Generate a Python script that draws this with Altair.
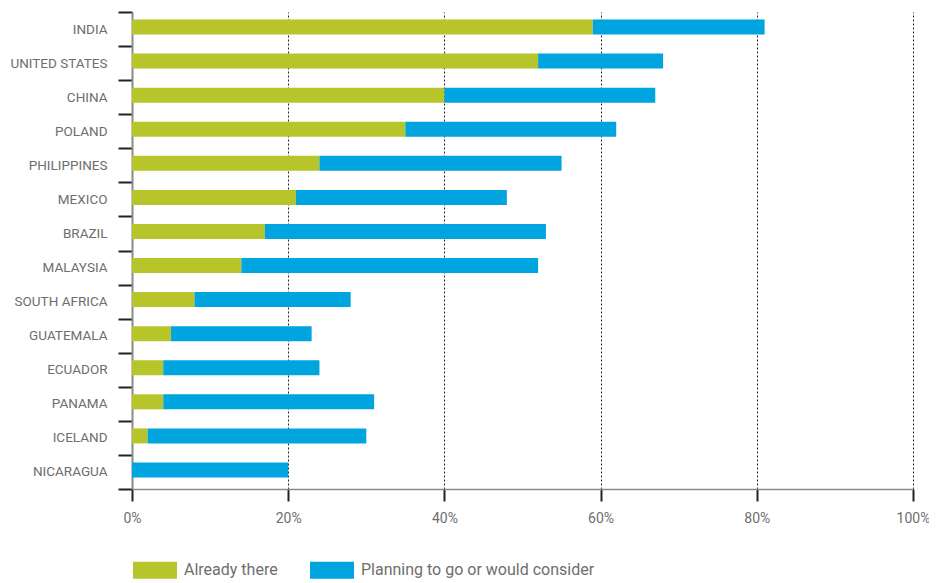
import altair as alt
import pandas as pd

countries = ["INDIA", "UNITED STATES", "CHINA", "POLAND", "PHILIPPINES", "MEXICO",
             "BRAZIL", "MALAYSIA", "SOUTH AFRICA", "GUATEMALA", "ECUADOR", "PANAMA",
             "ICELAND", "NICARAGUA"]
already = [59, 52, 40, 35, 24, 21, 17, 14, 8, 5, 4, 4, 2, 0]
total = [81, 68, 67, 62, 55, 48, 53, 52, 28, 23, 24, 31, 30, 20]
series = ["Already there", "Planning to go or would consider"]
colors = ["#b7c42a", "#00a5df"]
x_ticks = [0, 20, 40, 60, 80, 100]

rows = []
for c, a, t in zip(countries, already, total):
    rows.append({"country": c, "series": series[0], "value": a, "order": 0})
    rows.append({"country": c, "series": series[1], "value": t - a, "order": 1})
df = pd.DataFrame(rows)

FONT = "Roboto"
LABEL = "#6e6e6e"

chart = alt.Chart(df).mark_bar(height=15, yOffset=-2).encode(
    y=alt.Y("country:N", sort=countries, title=None,
            scale=alt.Scale(paddingInner=0, paddingOuter=0),
            axis=alt.Axis(tickBand="extent", grid=False, domainColor="#8a8a8a",
                          domainWidth=2, tickColor="#222222", tickWidth=2,
                          tickSize=14, labelPadding=11, labelFont=FONT,
                          labelFontSize=13.5, labelColor=LABEL)),
    x=alt.X("value:Q", stack="zero", title=None,
            scale=alt.Scale(domain=[0, 100], nice=False),
            axis=alt.Axis(values=x_ticks, labelExpr="datum.value + '%'",
                          labelFlush=False,
                          grid=True, gridColor="#222222", gridDash=[2, 2],
                          gridWidth=1, domainColor="#8a8a8a", domainWidth=1.5,
                          tickColor="#222222", tickWidth=2, tickSize=12,
                          labelPadding=10, labelFont=FONT, labelFontSize=14,
                          labelColor=LABEL)),
    color=alt.Color("series:N", sort=series,
                    scale=alt.Scale(domain=series, range=colors),
                    legend=alt.Legend(title=None, orient="none", legendX=1,
                                      legendY=536, direction="horizontal",
                                      symbolType="M-1,-0.39L1,-0.39L1,0.39L-1,0.39Z",
                                      symbolSize=1936, symbolStrokeWidth=0,
                                      symbolOpacity=1, labelFont=FONT,
                                      labelFontSize=16, labelColor=LABEL,
                                      labelOffset=7, columnPadding=32,
                                      labelLimit=400)),
    order=alt.Order("order:Q"),
).properties(
    width=781, height=477,
    autosize=alt.AutoSizeParams(type="none"),
    padding={"left": 124, "top": 4, "right": 16, "bottom": 94},
).configure_view(stroke=None)

chart.save("out.html", embed_options={"renderer": "svg", "actions": False})
